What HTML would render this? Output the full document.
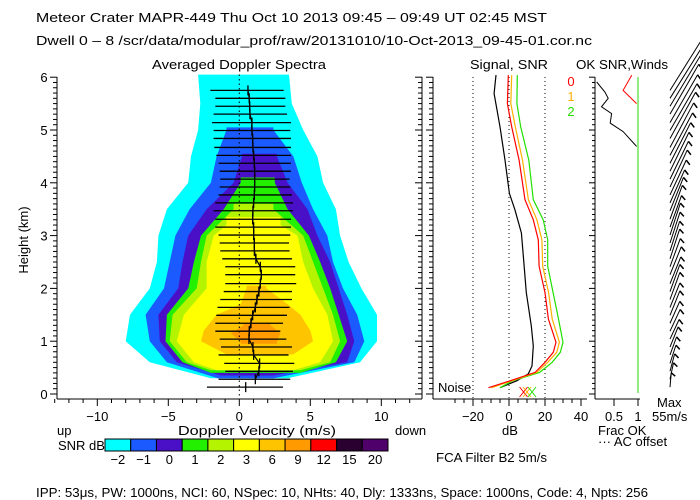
<!DOCTYPE html>
<html><head><meta charset="utf-8"><style>
html,body{margin:0;padding:0;background:#fff;width:700px;height:500px;overflow:hidden}
svg{display:block}
text{font-family:"Liberation Sans",sans-serif;font-size:13px}
</style></head><body>
<svg id="c" width="700" height="500" viewBox="0 0 700 500" fill="#000">
<g id="hdr">
<text x="36" y="22" textLength="511" lengthAdjust="spacingAndGlyphs">Meteor Crater  MAPR-449  Thu Oct 10 2013 09:45 – 09:49 UT 02:45 MST</text>
<text x="36" y="45" textLength="556" lengthAdjust="spacingAndGlyphs">Dwell  0 –  8   /scr/data/modular_prof/raw/20131010/10-Oct-2013_09-45-01.cor.nc</text>
<text x="152" y="69" textLength="174" lengthAdjust="spacingAndGlyphs">Averaged Doppler Spectra</text>
<text x="470" y="69" textLength="78" lengthAdjust="spacingAndGlyphs">Signal, SNR</text>
<text x="576" y="69" textLength="92" lengthAdjust="spacingAndGlyphs">OK SNR,Winds</text>
</g>
<g id="spec"></g>
<g id="bars"></g>
<g id="axes"></g>
<g id="sig"></g>
<g id="frac"></g>
<g id="wind"></g>
<g id="cbar"></g>
<g>
<text x="28" y="240" transform="rotate(-90 28 240)" text-anchor="middle" font-size="12">Height (km)</text>
<text x="57" y="435">up</text>
<text x="178" y="435" font-size="12" textLength="158" lengthAdjust="spacingAndGlyphs">Doppler Velocity (m/s)</text>
<text x="395" y="435">down</text>
<text x="58" y="450">SNR dB</text>
<text x="502" y="435">dB</text>
<text x="436" y="462" textLength="111" lengthAdjust="spacingAndGlyphs">FCA Filter B2  5m/s</text>
<text x="598" y="435">Frac OK</text>
<text x="598" y="446">··· AC offset</text>
<text x="657" y="407">Max</text>
<text x="652" y="421">55m/s</text>
<text x="438" y="392">Noise</text>
<text x="36" y="497" textLength="612" lengthAdjust="spacingAndGlyphs">IPP:  53μs,  PW: 1000ns,  NCI:  60,  NSpec: 10, NHts: 40,  Dly: 1333ns,  Space: 1000ns,  Code: 4,  Npts: 256</text>
</g>
</svg>
<script>
// ---- spectra contour data (height km, left/right velocity m/s) ----
const lvlColors = ["#00ffff","#1a5aff","#4a10c8","#22f000","#b4f400","#ffff00","#ffc400","#ff9a00"];
const cyanH=[0.3,0.6,1,1.5,2,2.5,3,3.5,4,4.5,5,5.5,6.05], cyanL=[-2,-6.3,-8,-7.7,-6.3,-5.8,-5.7,-5.1,-3.6,-3.4,-2.9,-2.75,-2.9], cyanR=[3.4,8.5,9.7,9.7,8.6,7.7,7.1,6.8,5.9,5.5,4.5,3.7,3.5];
const blueH=[0.3,0.6,1,1.5,2,2.5,3,3.5,4,4.5,5,5.05], blueL=[-1.5,-5.1,-6.3,-6.6,-5.3,-4.9,-4.5,-3.5,-2,-1.6,-0.9,-0.9], blueR=[2.4,8.1,8.8,8.3,7.3,6.6,6.2,5.2,4.4,3.8,2.4,2.4];
const purpH=[0.35,0.6,1,1.5,2,2.5,3,3.5,4,4.5,4.55], purpL=[-1.3,-4.4,-5.6,-5.7,-4.3,-4,-3.6,-2.3,-0.4,0.2,0.2], purpR=[2.4,7.6,8.1,7.6,7,6.4,5.5,4.8,3.4,2.65,2.65];
const greenH=[0.4,0.6,1,1.5,2,2.5,3,3.5,4,4.1], greenL=[-2,-4,-5.2,-5.1,-3.6,-3.2,-2.7,-1.1,0.1,0.1], greenR=[4.3,6.8,7.6,7,6.4,5.7,4.9,3.4,2.5,2.5];
const limeH=[0.45,0.6,1,1.5,2,2.5,3,3.5,3.6], limeL=[-2,-3.7,-4.9,-4.7,-3,-2.7,-2.3,-0.4,-0.4], limeR=[4.3,6.4,7.1,6.6,5.9,5.2,4.5,2.4,2.4];
const yellH=[0.45,0.6,1,1.5,2,2.5,3,3.2,3.35], yellL=[-1.6,-3.2,-4.4,-3.9,-2.3,-2.3,-1.8,-0.9,-0.9], yellR=[3.8,5.7,6.6,6.2,5.2,4.5,4.1,2.9,2.9];
const lorH=[0.75,1,1.2,1.5,1.7,2,2.05], lorL=[-0.9,-2.7,-2.5,-1.6,0.1,0.5,0.5], lorR=[3.8,5.2,5,4.3,3.4,1.9,1.9];
const orH=[0.95,1.0,1.15,1.3,1.35], orL=[0.1,0.1,-0.6,0.3,0.3], orR=[2.65,2.65,2.9,2.2,2.2];
// ---- mean velocity / spectral width bars ----
const barH=[5.75,5.60,5.45,5.30,5.14,4.99,4.84,4.67,4.52,4.37,4.22,4.07,3.92,3.77,3.62,3.47,3.31,3.16,3.01,2.86,2.71,2.56,2.41,2.26,2.09,1.94,1.79,1.64,1.49,1.34,1.19,1.04,0.89,0.74,0.58,0.43,0.28,0.13];
const barL=[-2.04,-1.69,-1.69,-1.81,-1.92,-1.81,-1.81,-1.76,-1.62,-1.46,-1.38,-1.34,-1.38,-1.46,-1.69,-1.81,-1.69,-1.69,-1.46,-1.38,-1.34,-1.20,-0.99,-0.99,-0.99,-1.10,-1.34,-1.53,-1.62,-1.69,-1.69,-1.38,-1.29,-1.46,-1.06,-0.99,-1.46,-2.28];
const barR=[3.12,3.24,3.24,3.36,3.64,3.59,3.64,3.64,3.64,3.64,3.64,3.54,3.59,3.71,3.78,3.78,3.64,3.64,3.59,3.50,3.54,3.71,3.94,3.94,4.01,3.71,3.71,3.54,3.36,3.08,2.89,3.31,3.71,3.47,3.87,3.78,3.59,3.08];
const barC=[0.61,0.70,0.73,0.75,0.89,0.89,0.94,0.96,1.01,1.06,1.08,1.08,1.08,1.06,1.01,0.96,0.94,1.01,1.01,1.06,1.06,1.17,1.48,1.55,1.48,1.38,1.24,1.13,0.94,0.82,0.70,0.68,0.96,1.01,1.43,1.38,1.13,0.45];
// ---- signal / SNR profiles (dB) ----
const sigH=[6.04,5.5,5.06,4.43,3.68,3.3,2.92,2.42,1.92,1.42,0.98,0.79,0.6,0.41,0.25,0.12];
const snr0=[-0.4,-0.9,1.5,5.6,8.9,13.5,16.3,16.7,20,21.9,26.1,24.6,20,14.5,0.6,-11.4];
const snr1=[1.5,1.0,3.5,7.5,10.8,15.5,18.3,18.7,22,24,28,26.5,21.5,15.5,1.5,-9.8];
const snr2=[4.6,4.4,6.5,11,13.5,19,21.5,21.5,24.5,27.5,30,28.5,24,17,2,-5];
const sigBH=[6.04,5.69,5.06,4.43,3.8,3.49,3.05,2.55,1.92,1.29,0.91,0.53,0.38,0.25,0.12];
const sigB=[-7.2,-8.3,-5,-2.2,0.2,3.3,6.9,8.1,9.6,12.4,13.5,12.8,10.7,4.3,-5];
const noiseDb=[8.1,10,12.8];
// ---- frac OK ----
const fracRedH=[6.04,5.75,5.5], fracRed=[0.87,0.69,0.97];
const fracBlkH=[5.91,5.72,5.60,5.44,5.31,5.13,4.97,4.69], fracBlk=[0.14,0.31,0.38,0.24,0.45,0.42,0.69,0.97];
// ---- winds (per bar height) ----
const windSpd=[50,52,50,48,46,45,44,42,40,38,36,35,34,32,30,30,30,28,28,27,26,26,25,25,24,24,24,22,22,20,20,18,18,16,16,15,14,12];
const windDir=[32,32,31,30,30,30,29,28,28,27,26,26,25,25,24,22,20,20,18,18,18,18,20,22,22,20,20,22,22,24,25,25,22,20,18,15,12,5];
// ---- colorbar ----
const cbLabels=["−2","−1","0","1","2","3","6","9","12","15","20"];
const cbColors=["#00ffff","#1a5aff","#4a10c8","#22f000","#b4f400","#ffff00","#ffc400","#ff9a00","#ff0000","#2a0030","#50006a"];

const NS="http://www.w3.org/2000/svg";
const X=v=>239.3+14.2*v, Y=h=>394-52.8*h;
const XD=d=>509+1.8*d, XF=f=>590+48*f;
function mk(tag,attrs,parent){const e=document.createElementNS(NS,tag);for(const k in attrs)e.setAttribute(k,attrs[k]);parent.appendChild(e);return e;}
const g=id=>document.getElementById(id);

const lv=[[cyanH,cyanL,cyanR],[blueH,blueL,blueR],[purpH,purpL,purpR],[greenH,greenL,greenR],[limeH,limeL,limeR],[yellH,yellL,yellR],[lorH,lorL,lorR],[orH,orL,orR]];
lv.forEach((l,i)=>{
  const [H,L,R]=l;let pts=[];
  for(let k=0;k<H.length;k++)pts.push(X(L[k]).toFixed(1)+","+Y(H[k]).toFixed(1));
  for(let k=H.length-1;k>=0;k--)pts.push(X(R[k]).toFixed(1)+","+Y(H[k]).toFixed(1));
  const p=mk("polygon",{points:pts.join(" "),fill:lvlColors[i]},g("spec"));
  
  
});
const zl=mk("line",{x1:X(0),x2:X(0),y1:Y(6.05),y2:399,stroke:"#000","stroke-dasharray":"1.5,3"},g("bars"));


let cp=[];
barH.forEach((h,i)=>{
  const y=Y(h);
  const b=mk("line",{x1:X(barL[i]),x2:X(barR[i]),y1:y,y2:y,stroke:"#000","stroke-width":1.3},g("bars"));
  
  
  const t=mk("line",{x1:X(barC[i]),x2:X(barC[i]),y1:y-5,y2:y+5,stroke:"#000","stroke-width":1.3},g("bars"));
  
  
  cp.push(X(barC[i]).toFixed(1)+","+y.toFixed(1));
});
const ml=mk("polyline",{points:cp.slice(0,-1).join(" "),fill:"none",stroke:"#000","stroke-width":1.2},g("bars"));



const ax=g("axes");
function line(x1,y1,x2,y2,p,name,extra){const l=mk("line",Object.assign({x1,y1,x2,y2,stroke:"#000","stroke-width":1},extra||{}),p);return l;}
function txt(x,y,s,p,name,anchor){const t=mk("text",{x,y,"text-anchor":anchor||"middle"},p);t.textContent=s;return t;}
line(57,399,422,399,ax,"x-axis");
line(57,77,57,399,ax,"y-axis");
line(422,77,422,399,ax,"right-axis");
for(let v=-13;v<=12;v++){const maj=v%5===0;line(X(v),399,X(v),399+(maj?7:4),ax,"x-tick");if(maj)txt(X(v),421,v<0?"−"+(-v):String(v),ax,"x-tick-label");}
for(let k=0;k<=60;k++){const h=k/10,maj=k%10===0;line(57-(maj?7:4),Y(h),57,Y(h),ax,"y-tick");line(422-(maj?7:4),Y(h),422,Y(h),ax,"right-tick");if(maj)txt(44,Y(h)+5,String(k/10),ax,"y-tick-label");}

const sg=g("sig");
line(433,77,433,399,sg,"signal-y-axis");
line(433,399,587,399,sg,"signal-x-axis");
for(let k=0;k<=60;k++){const maj=k%10===0;line(433-(maj?7:4),Y(k/10),433,Y(k/10),sg,"signal-y-tick");}
for(let d=-30;d<=40;d+=5){if(XD(d)<433)continue;const maj=d%20===0;line(XD(d),399,XD(d),399+(maj?7:4),sg,"signal-x-tick");if(maj)txt(XD(d),421,d<0?"−"+(-d):String(d),sg,"signal-x-label");}
[-20,0,20].forEach(d=>line(XD(d),77,XD(d),399,sg,"signal-gridline",{"stroke-dasharray":"1,3"}));
function prof(H,D,col,name,p){const pts=H.map((h,i)=>XD(D[i]).toFixed(1)+","+Y(h).toFixed(1)).join(" ");const l=mk("polyline",{points:pts,fill:"none",stroke:col,"stroke-width":1.2},p);}
prof(sigBH,sigB,"#000","signal-line",sg);
prof(sigH,snr2,"#22e000","snr-beam-2",sg);
prof(sigH,snr1,"#ffb000","snr-beam-1",sg);
prof(sigH,snr0,"#ff0000","snr-beam-0",sg);
const ncol=["#ff0000","#ffb000","#22e000"];
noiseDb.forEach((d,i)=>{const x=XD(d),y=392;line(x-4,y-5,x+4,y+5,sg,"noise-marker",{stroke:ncol[i]});line(x-4,y+5,x+4,y-5,sg,"noise-marker",{stroke:ncol[i]});});
["0","1","2"].forEach((s,i)=>{const t=txt(571,86+15*i,s,sg,"beam-legend-entry");t.style.fill=ncol[i];});

const fr=g("frac");
line(595,77,595,399,fr,"frac-y-axis");
line(595,399,640,399,fr,"frac-x-axis");
for(let k=0;k<=60;k++){const maj=k%10===0;line(595-(maj?6:3),Y(k/10),595,Y(k/10),fr,"frac-y-tick");}
[0.5,1].forEach(f=>{line(XF(f),399,XF(f),406,fr,"frac-x-tick");txt(XF(f),421,String(f),fr,"frac-x-label");});
line(XF(1),77,XF(1),393,fr,"frac-ok-line",{stroke:"#22dd00"});
function fprof(H,F,col,name){const pts=H.map((h,i)=>XF(F[i]).toFixed(1)+","+Y(h).toFixed(1)).join(" ");const l=mk("polyline",{points:pts,fill:"none",stroke:col},fr);}
fprof(fracRedH,fracRed,"#ff0000","frac-red-line");
fprof(fracBlkH,fracBlk,"#000","frac-black-line");

const wd=g("wind");
barH.forEach((h,i)=>{
  const a=windDir[i]*Math.PI/180,L=windSpd[i]*1.2,x0=670,y0=Y(h);
  const x1=x0+L*Math.sin(a),y1=y0-L*Math.cos(a);
  const s=mk("line",{x1:x0,y1:y0,x2:x1,y2:y1,stroke:"#000","stroke-width":1},wd);
  
  
  const b=mk("line",{x1:x1,y1:y1,x2:x1+4*Math.cos(a),y2:y1+4*Math.sin(a)+3,stroke:"#000","stroke-width":1.5},wd);
  
  
});

const cb=g("cbar");const cw=(388-105)/cbColors.length;
cbColors.forEach((c,i)=>{
  const r=mk("rect",{x:105+i*cw,y:439,width:cw,height:12,fill:c,stroke:"#000","stroke-width":1},cb);
  
  
  txt(105+i*cw+cw/2,464,cbLabels[i],cb,"colorbar-label");
});
</script>
</body></html>
